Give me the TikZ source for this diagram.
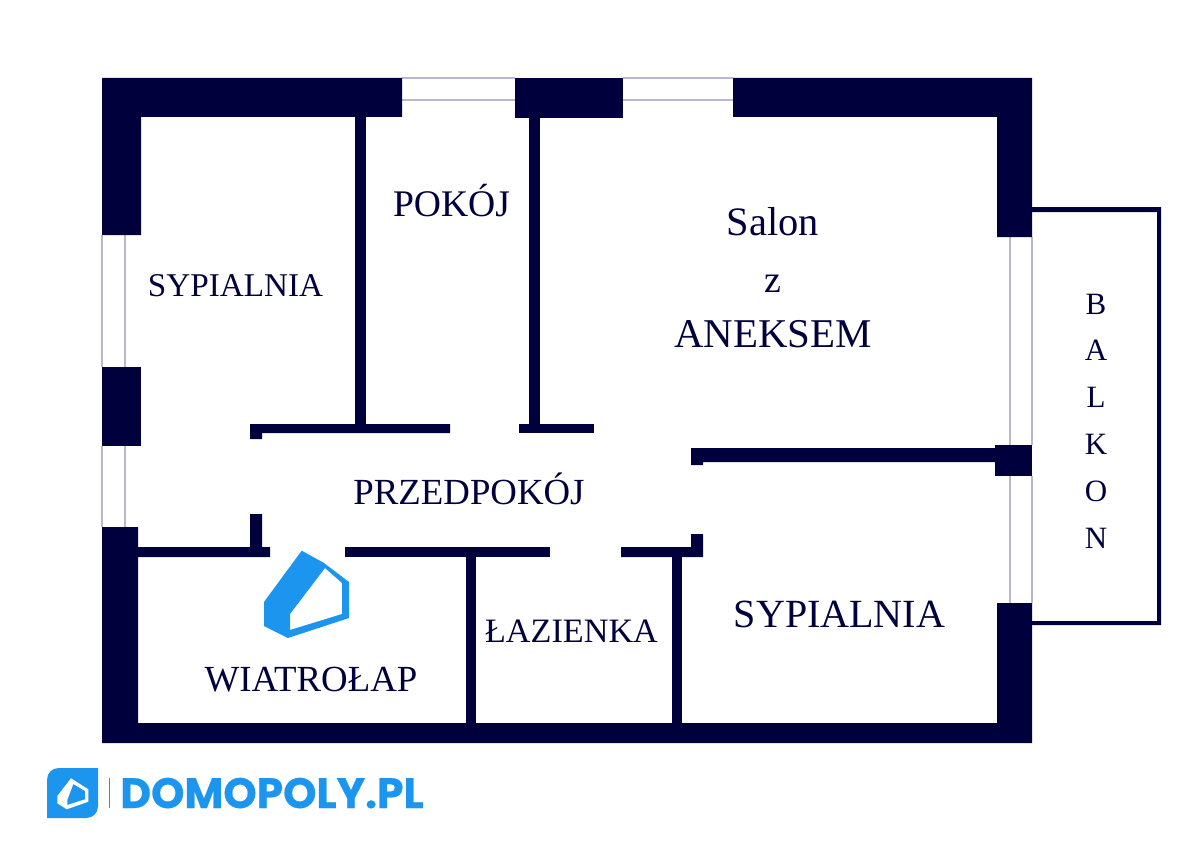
\documentclass[tikz,border=0pt]{standalone}
\usepackage{fontspec}
\setmainfont{Liberation Serif}
\newfontfamily\logofont{Poppins}[BoldFeatures={FakeBold=0.6}]
\definecolor{wallc}{RGB}{0,0,60}
\definecolor{winc}{RGB}{184,184,208}
\definecolor{logoc}{RGB}{27,149,238}
\newcommand{\pxfont}[1]{\fontsize{\the\dimexpr #1pt*3/4\relax}{\the\dimexpr #1pt*9/10\relax}\selectfont}
\tikzset{
  wall/.style={fill=wallc,draw=none},
  winline/.style={draw=winc,line width=1.1pt},
  logofill/.style={fill=logoc,draw=none},
  label/.style={text=wallc,anchor=base,inner sep=0pt,outer sep=0pt},
}
\begin{document}
\begin{tikzpicture}[x=0.75pt,y=-0.75pt]
\useasboundingbox (0,0) rectangle (1200,849);
\fill[white] (0,0) rectangle (1200,849);
% windows
\draw[winline] (402,78) -- (515,78) (402,100) -- (515,100);
\draw[winline] (623,78) -- (733,78) (623,100) -- (733,100);
\draw[winline] (102,235) -- (102,367) (125,235) -- (125,367);
\draw[winline] (102,446) -- (102,527) (125,446) -- (125,527);
\draw[winline] (1010,237) -- (1010,445) (1032,237) -- (1032,445);
\draw[winline] (1010,476) -- (1010,603) (1032,476) -- (1032,603);
% outer walls
\fill[wall] (102,78) -- (402,78) -- (402,117) -- (141,117) -- (141,235) -- (102,235) -- cycle;
\fill[wall] (515,78) rectangle (623,118);
\fill[wall] (733,78) -- (1032,78) -- (1032,237) -- (997,237) -- (997,117) -- (733,117) -- cycle;
\fill[wall] (102,367) rectangle (141,446);
\fill[wall] (995,445) rectangle (1032,476);
\fill[wall] (102,527) -- (138,527) -- (138,723) -- (997,723) -- (997,603) -- (1032,603) -- (1032,743) -- (102,743) -- cycle;
% balcony
\fill[wall] (1032,207) -- (1161,207) -- (1161,625) -- (1032,625) -- (1032,621) -- (1157,621) -- (1157,212) -- (1032,212) -- cycle;
% inner walls
\fill[wall] (355,117) rectangle (366,424);
\fill[wall] (529,118) rectangle (540,424);
\fill[wall] (250,424) -- (450,424) -- (450,433) -- (262,433) -- (262,439) -- (250,439) -- cycle;
\fill[wall] (519,424) rectangle (594,433);
\fill[wall] (691,448) -- (995,448) -- (995,462) -- (703,462) -- (703,465) -- (691,465) -- cycle;
\fill[wall] (138,547) -- (250,547) -- (250,514) -- (262,514) -- (262,547) -- (270,547) -- (270,557) -- (138,557) -- cycle;
\fill[wall] (345,547) rectangle (550,557);
\fill[wall] (621,547) -- (691,547) -- (691,534) -- (703,534) -- (703,557) -- (621,557) -- cycle;
\fill[wall] (466,557) rectangle (476,723);
\fill[wall] (672,557) rectangle (682,723);
% plan logo
\fill[logofill,even odd rule] (301.7,550.7) -- (324,563) -- (349,582) -- (349,618) -- (288,638) -- (264,626) -- (264,602) -- cycle
  (325,568) -- (342,583) -- (342,614) -- (290,630) -- (290,614) -- cycle;
% labels
\node[label,font=\pxfont{33.2}] (syp1) at (235.5,296.5) {SYPIALNIA};
\node[label,font=\pxfont{37.6}] (pok) at (451.5,216) {POKÓJ};
\node[label,font=\pxfont{40.4}] (salon) at (773,235) {Salon};
\node[label,font=\pxfont{38}] (z) at (773,292) {z};
\node[label,font=\pxfont{40.9}] (anx) at (773,347) {ANEKSEM};
\node[label,font=\pxfont{36.8}] (prz) at (469,504) {PRZEDPOKÓJ};
\node[label,font=\pxfont{34.2}] (laz) at (571.5,642) {ŁAZIENKA};
\node[label,font=\pxfont{40}] (syp2) at (839.5,627) {SYPIALNIA};
\node[label,font=\pxfont{36.8}] (wia) at (311,691) {WIATROŁAP};
\node[text=wallc,inner sep=0pt,align=center,anchor=center,font={\fontsize{23.25}{35.1}\selectfont}] (bal) at (1096,421) {B\\A\\L\\K\\O\\N};
% footer logo
\fill[logofill] (98,768) -- (98,806) .. controls (98,813) and (93,818) .. (86,818) -- (47,818) -- (47,780) .. controls (47,773) and (52,768) .. (59,768) -- cycle;
\fill[white,even odd rule] (71,778.3) -- (88.3,789.3) -- (88.3,801.7) -- (66.7,809.3) -- (57.3,803.3) -- (57.3,796) -- cycle
  (73.3,784) -- (85,791) -- (85,799.3) -- (67.3,805) -- (67.3,800) -- cycle;
\draw[logoc,line width=0.6pt] (109,778) -- (109,808);
\node[anchor=base west,inner sep=0pt,text=logoc,font={\logofont\bfseries\fontsize{31.8}{36}\selectfont}] (brand) at (120,808) {DOMOPOLY.PL};
\end{tikzpicture}
\end{document}
